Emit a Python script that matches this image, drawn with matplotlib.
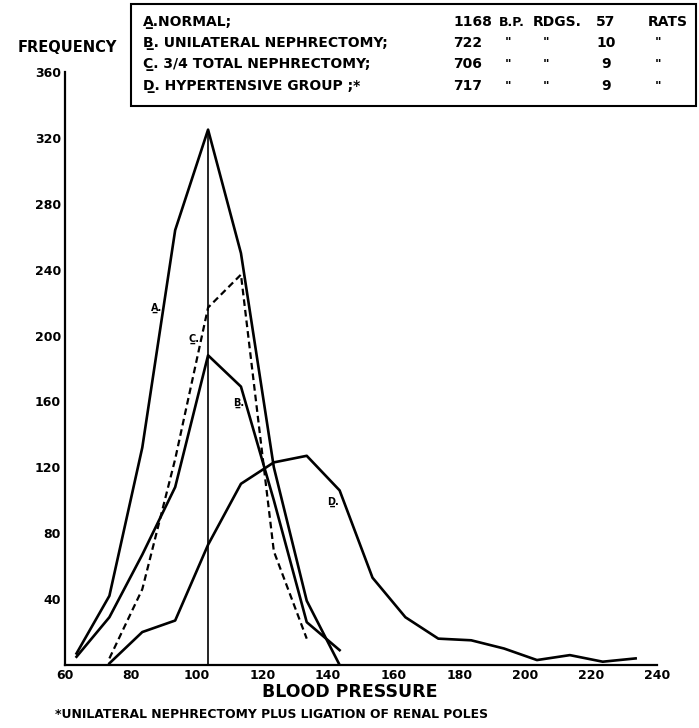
import matplotlib
matplotlib.use("Agg")
import matplotlib.pyplot as plt
from matplotlib.patches import Rectangle

plt.rcParams['font.family'] = ['DejaVu Sans']
plt.rcParams['font.weight'] = 'bold'

# blood pressure class midpoints and frequencies
bp_ab = [63.5, 73.5, 83.5, 93.5, 103.5, 113.5, 123.5, 133.5, 143.5]
freq_a = [7, 42, 132, 264, 325, 250, 120, 39, 0]
freq_b = [5, 29, 67, 108, 188, 169, 100, 26, 9]
bp_c = [73.5, 83.5, 93.5, 103.5, 113.5, 123.5, 133.5]
freq_c = [4, 46, 125, 217, 237, 69, 16]
bp_d = [73.5, 83.5, 93.5, 103.5, 113.5, 123.5, 133.5, 143.5, 153.5, 163.5,
        173.5, 183.5, 193.5, 203.5, 213.5, 223.5, 233.5]
freq_d = [1, 20, 27, 73, 110, 123, 127, 106, 53, 29, 16, 15, 10, 3, 6, 2, 4]
mode_bp = 103.5

x_ticks = [60, 80, 100, 120, 140, 160, 180, 200, 220, 240]
y_ticks = [40, 80, 120, 160, 200, 240, 280, 320, 360]

curve_labels = ['A\u0332.', 'C\u0332.', 'B\u0332.', 'D\u0332.']
curve_label_pos = [(87.7, 217), (99.2, 198), (112.7, 159), (141.4, 99)]

legend_names = ['A\u0332.NORMAL;', 'B\u0332. UNILATERAL NEPHRECTOMY;',
                'C\u0332. 3/4 TOTAL NEPHRECTOMY;', 'D\u0332. HYPERTENSIVE GROUP ;*']
legend_readings = ['1168', '722', '706', '717']
legend_rats = ['57', '10', '9', '9']

fig = plt.figure(figsize=(6.99, 7.28), dpi=100)
ax = fig.add_axes([65 / 699, 63 / 728, 592 / 699, 593 / 728])

ax.plot(bp_ab, freq_a, color='black', lw=1.9)
ax.plot(bp_ab, freq_b, color='black', lw=1.9)
ax.plot(bp_c, freq_c, color='black', lw=1.6, linestyle=(0, (3, 1.8)))
ax.plot(bp_d, freq_d, color='black', lw=1.9)
ax.vlines(mode_bp, 0, max(freq_a), color='black', lw=1.2)

for lab, (x, y) in zip(curve_labels, curve_label_pos):
    ax.text(x, y, lab, fontsize=7, ha='center', va='center')

ax.set_xlim(60, 240)
ax.set_ylim(0, 360)
ax.set_xticks(x_ticks)
ax.set_yticks(y_ticks)
ax.tick_params(length=0, labelsize=9, pad=3)
for t in ax.get_xticklabels() + ax.get_yticklabels():
    t.set_fontweight('bold')
for s in ['top', 'right']:
    ax.spines[s].set_visible(False)
for s in ['left', 'bottom']:
    ax.spines[s].set_linewidth(1.6)

fig.text(350 / 699, 1 - 692 / 728, 'BLOOD PRESSURE', fontsize=12.5, ha='center', va='center')
fig.text(67 / 699, 1 - 47 / 728, 'FREQUENCY', fontsize=10.5, ha='center', va='center')
fig.text(55 / 699, 1 - 714 / 728, '*UNILATERAL NEPHRECTOMY PLUS LIGATION OF RENAL POLES',
         fontsize=8.9, ha='left', va='center')

# legend table in a box at the top
fig.add_artist(Rectangle((131 / 699, 1 - 106 / 728), 565 / 699, 102 / 728,
                         transform=fig.transFigure, fill=False, lw=1.5, color='black'))
row_y = [22, 43, 64, 86]
for i, y in enumerate(row_y):
    fy = 1 - y / 728
    fig.text(143 / 699, fy, legend_names[i], fontsize=10, va='center')
    fig.text(453 / 699, fy, legend_readings[i], fontsize=10, va='center')
    fig.text(606 / 699, fy, legend_rats[i], fontsize=10, va='center', ha='center')
    if i == 0:
        fig.text(499 / 699, fy, 'B.P.', fontsize=9, va='center')
        fig.text(533 / 699, fy, 'RDGS.', fontsize=10, va='center')
        fig.text(648 / 699, fy, 'RATS', fontsize=10, va='center')
    else:
        for dx in [508, 546, 658]:
            fig.text(dx / 699, fy, '"', fontsize=9, va='center', ha='center')

fig.savefig('out.png', dpi=100)
